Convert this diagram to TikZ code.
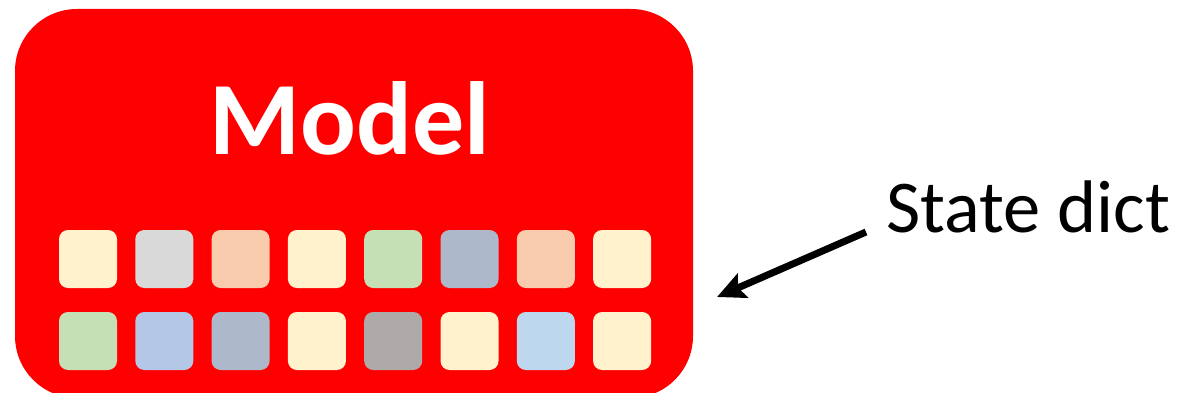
\documentclass[tikz,border=0pt]{standalone}
\usepackage{fontspec}
\setmainfont{Carlito}
\usetikzlibrary{arrows.meta}
\definecolor{boxred}{HTML}{FF0000}
\definecolor{cA}{HTML}{FFF2CC}
\definecolor{cB}{HTML}{D9D9D9}
\definecolor{cC}{HTML}{F8CBAD}
\definecolor{cD}{HTML}{C5E0B4}
\definecolor{cE}{HTML}{ADB9CA}
\definecolor{cF}{HTML}{B4C7E7}
\definecolor{cG}{HTML}{AEAAAA}
\definecolor{cH}{HTML}{BDD7EE}
\tikzset{
  tile/.style={rectangle, rounded corners=9pt, minimum width=58pt, minimum height=58pt, inner sep=0pt, draw=none},
  modelbox/.style={fill=boxred, rounded corners=62pt},
}
\begin{document}
\begin{tikzpicture}[x=1pt,y=-1pt]
\useasboundingbox (0,0) rectangle (1178,393);
\fill[modelbox] (15,9) rectangle (693,398);
\node[anchor=base, text=white, font=\fontsize{104}{110}\selectfont\bfseries, inner sep=0pt] (model) at (350,155) {Model};
\foreach \c [count=\i from 0] in {cA,cB,cC,cA,cD,cE,cC,cA}{
  \node[tile, fill=\c] (t1-\i) at (88+76.3*\i,259) {};
}
\foreach \c [count=\i from 0] in {cD,cF,cE,cA,cG,cA,cH,cA}{
  \node[tile, fill=\c] (t2-\i) at (88+76.3*\i,341) {};
}
\node[anchor=base west, font=\fontsize{74.5}{80}\selectfont, inner sep=0pt] (sd) at (886,232) {State dict};
\coordinate (as) at (866,232);
\coordinate (at) at (717,297);
\draw[line width=7pt, -{Stealth[length=28pt, width=26pt, inset=5pt]}] (as) -- (at);
\end{tikzpicture}
\end{document}
